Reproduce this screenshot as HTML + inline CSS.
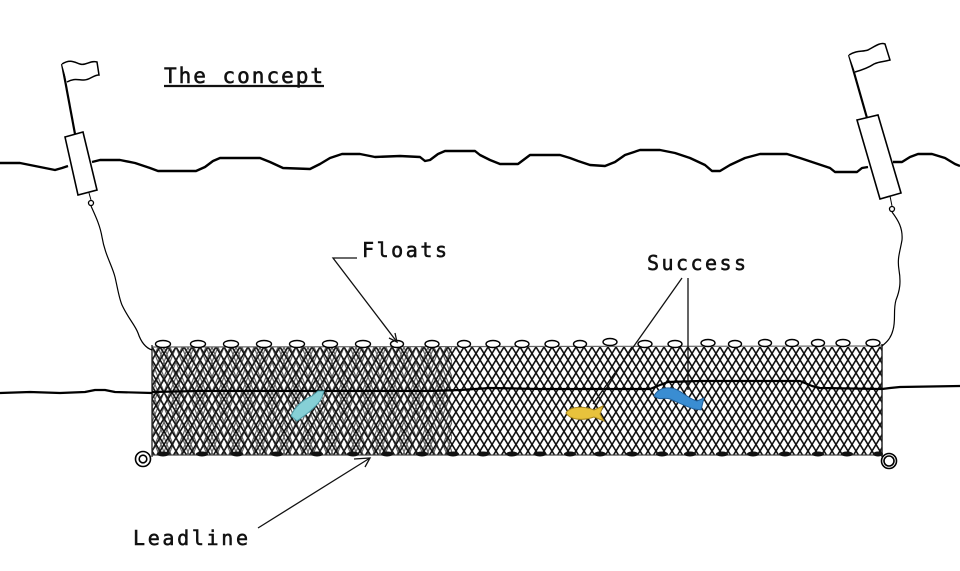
<!DOCTYPE html>
<html><head><meta charset="utf-8"><style>
html,body{margin:0;padding:0;background:#fff;}
svg{display:block;}
text{font-family:"DejaVu Sans Mono","Liberation Mono",monospace;fill:#111;stroke:#111;stroke-width:0.55;}
</style></head><body>
<svg width="960" height="571" viewBox="0 0 960 571" xmlns="http://www.w3.org/2000/svg">
<defs>
<pattern id="mesh" x="152" y="347" width="8" height="13" patternUnits="userSpaceOnUse">
<g stroke="#111" stroke-width="1.6" fill="none">
<line x1="-8" y1="-13" x2="16" y2="26"/>
<line x1="-16" y1="-13" x2="8" y2="26"/>
<line x1="0" y1="-13" x2="24" y2="26"/>
<line x1="16" y1="-13" x2="-8" y2="26"/>
<line x1="8" y1="-13" x2="-16" y2="26"/>
<line x1="24" y1="-13" x2="0" y2="26"/>
</g>
</pattern>
<pattern id="mesh2" x="152" y="347" width="6" height="15" patternUnits="userSpaceOnUse">
<g stroke="#222" stroke-width="1.2" fill="none">
<line x1="-6" y1="-15" x2="12" y2="30"/>
<line x1="-12" y1="-15" x2="6" y2="30"/>
<line x1="0" y1="-15" x2="18" y2="30"/>
<line x1="12" y1="-15" x2="-6" y2="30"/>
<line x1="6" y1="-15" x2="-12" y2="30"/>
<line x1="18" y1="-15" x2="0" y2="30"/>
</g>
</pattern>
</defs>

<!-- Title -->
<text x="164" y="83" font-size="21" textLength="159" lengthAdjust="spacing">The concept</text>
<line x1="164" y1="86" x2="324" y2="86" stroke="#111" stroke-width="2.2"/>

<!-- top water line -->
<g fill="none" stroke="#000" stroke-width="2.4" stroke-linejoin="round">
<polyline points="0,163 20,163 40,167 55,170 62,168 68,166"/>
<polyline points="92,162 100,160 120,160 135,163 150,168 158,171 196,171 205,167 213,161 220,158 260,158 270,162 283,168 310,169 320,164 330,158 342,154 360,154 375,157 400,156 420,157 425,161 430,160 438,154 445,151 475,151 480,155 490,160 500,164 518,164 522,161 530,155 560,155 570,158 578,161 590,165 605,166 615,162 625,155 640,150 660,150 675,153 690,158 705,165 712,171 720,171 730,165 745,158 760,154 787,154 800,158 815,163 830,168 835,172 857,172 862,168 868,167"/>
<polyline points="893,162 902,162 910,157 918,154 932,154 945,158 955,164 960,166"/>
</g>

<!-- net mesh -->
<rect x="152" y="347" width="730" height="108" fill="url(#mesh)"/>
<rect x="152" y="347" width="300" height="108" fill="url(#mesh2)" opacity="0.7"/>
<line x1="152" y1="347" x2="882" y2="346" stroke="#666" stroke-width="1.2"/>
<line x1="152" y1="455" x2="882" y2="455" stroke="#444" stroke-width="1.2"/>
<line x1="152" y1="345" x2="152" y2="457" stroke="#222" stroke-width="1.3"/>
<line x1="882" y1="344" x2="882" y2="457" stroke="#222" stroke-width="1.5"/>

<!-- bottom water line -->
<g fill="none" stroke="#000" stroke-width="2.2" stroke-linejoin="round">
<polyline points="0,393 30,392 60,393 85,392 95,390 105,390 115,392 152,393"/>
<polyline points="152,392 200,391 300,391 430,391 460,390 490,388 540,389 650,389 660,385 668,382 700,381 800,381 812,386 820,388 882,389"/>
<polyline points="882,389 890,388 900,387 960,386"/>
</g>

<!-- floats -->
<g fill="#fff" stroke="#000" stroke-width="1.4">
<ellipse cx="163" cy="344" rx="7.5" ry="3.5"/>
<ellipse cx="198" cy="344" rx="7.5" ry="3.5"/>
<ellipse cx="231" cy="344" rx="7.5" ry="3.5"/>
<ellipse cx="264" cy="344" rx="7.5" ry="3.5"/>
<ellipse cx="297" cy="344" rx="7.5" ry="3.5"/>
<ellipse cx="330" cy="344" rx="7.5" ry="3.5"/>
<ellipse cx="363" cy="344" rx="7.5" ry="3.5"/>
<ellipse cx="397" cy="344" rx="6.5" ry="3.5"/>
<ellipse cx="432" cy="344" rx="7" ry="3.5"/>
<ellipse cx="464" cy="344" rx="6.5" ry="3.5"/>
<ellipse cx="493" cy="344" rx="7" ry="3.5"/>
<ellipse cx="522" cy="344" rx="7" ry="3.5"/>
<ellipse cx="552" cy="344" rx="7" ry="3.5"/>
<ellipse cx="580" cy="344" rx="6.5" ry="3.5"/>
<ellipse cx="610" cy="342" rx="7" ry="3.5"/>
<ellipse cx="645" cy="344" rx="7" ry="3.5"/>
<ellipse cx="675" cy="344" rx="7" ry="3.5"/>
<ellipse cx="708" cy="343" rx="7" ry="3.5"/>
<ellipse cx="735" cy="344" rx="6.5" ry="3.5"/>
<ellipse cx="765" cy="343" rx="6.5" ry="3.5"/>
<ellipse cx="792" cy="343" rx="6.5" ry="3.5"/>
<ellipse cx="818" cy="343" rx="6.5" ry="3.5"/>
<ellipse cx="843" cy="343" rx="7" ry="3.5"/>
<ellipse cx="873" cy="343" rx="7" ry="3.5"/>
</g>

<!-- leads -->
<g fill="#111">
<ellipse cx="163" cy="454" rx="6" ry="2.5"/>
<ellipse cx="202" cy="454" rx="6" ry="2.5"/>
<ellipse cx="237" cy="454" rx="6" ry="2.5"/>
<ellipse cx="277" cy="454" rx="6" ry="2.5"/>
<ellipse cx="317" cy="454" rx="6" ry="2.5"/>
<ellipse cx="353" cy="454" rx="6" ry="2.5"/>
<ellipse cx="387" cy="454" rx="6" ry="2.5"/>
<ellipse cx="422" cy="454" rx="6" ry="2.5"/>
<ellipse cx="453" cy="454" rx="6" ry="2.5"/>
<ellipse cx="483" cy="454" rx="6" ry="2.5"/>
<ellipse cx="512" cy="454" rx="6" ry="2.5"/>
<ellipse cx="540" cy="454" rx="6" ry="2.5"/>
<ellipse cx="570" cy="454" rx="6" ry="2.5"/>
<ellipse cx="600" cy="454" rx="6" ry="2.5"/>
<ellipse cx="632" cy="454" rx="6" ry="2.5"/>
<ellipse cx="662" cy="454" rx="6" ry="2.5"/>
<ellipse cx="690" cy="454" rx="6" ry="2.5"/>
<ellipse cx="722" cy="454" rx="6" ry="2.5"/>
<ellipse cx="753" cy="454" rx="6" ry="2.5"/>
<ellipse cx="785" cy="454" rx="6" ry="2.5"/>
<ellipse cx="818" cy="454" rx="6" ry="2.5"/>
<ellipse cx="847" cy="454" rx="6" ry="2.5"/>
<ellipse cx="878" cy="454" rx="5" ry="2.5"/>
</g>

<!-- rings -->
<g fill="#fff" stroke="#000" stroke-width="1.6">
<circle cx="143" cy="459" r="7.5"/>
<circle cx="143" cy="459" r="3.8"/>
<circle cx="889" cy="461" r="7.5"/>
<circle cx="889" cy="461" r="5"/>
</g>

<!-- fish -->
<g stroke-width="1">
<path d="M291,416 C294,408 302,400 312,396 L318,391 L324,391 L322,397 L320,401 C313,410 304,416 297,421 Z" fill="#86d0d6" stroke="#4d9aa6"/>
<path d="M566,413 C570,406 584,406 594,410 L603,406 L600,414 L604,421 L594,417 C583,421 570,420 566,413 Z" fill="#e8c23c" stroke="#a8861c"/>
<path d="M654,396 C659,386 672,386 681,392 C688,397 693,400 697,401 L704,398 L701,410 L694,409 C685,406 677,402 670,399 C664,397 660,401 654,396 Z" fill="#3a8dd2" stroke="#1f5f9a"/>
</g>

<!-- left buoy -->
<g stroke="#000" fill="none">
<line x1="62" y1="64" x2="75" y2="134" stroke-width="2.2"/>
<path d="M62,64 C70,59 74,62 80,64 C86,66 90,60 97,62 L99,75 C93,75 90,80 84,80 C78,80 74,78 67,82" stroke-width="1.5" fill="#fff"/>
<polygon points="65,137 83,132 97,190 78,195" fill="#fff" stroke-width="1.6"/>
<line x1="89" y1="193" x2="91" y2="200" stroke-width="1"/>
<circle cx="91" cy="203" r="2.5" stroke-width="1.3"/>
<path d="M91,206 C95,215 100,225 102,237 C105,255 112,265 115,277 C118,290 119,298 122,305 C128,318 135,325 138,333 C141,342 146,348 152,350" stroke-width="1.2"/>
</g>

<!-- right buoy -->
<g stroke="#000" fill="none">
<line x1="849" y1="55" x2="867" y2="118" stroke-width="2.2"/>
<path d="M849,55 C857,50 862,52 868,50 C874,47 880,42 885,44 L890,60 C884,62 880,61 874,64 C868,68 862,70 855,72" stroke-width="1.5" fill="#fff"/>
<polygon points="857,120 878,115 901,193 880,199" fill="#fff" stroke-width="1.6"/>
<line x1="890" y1="196" x2="892" y2="206" stroke-width="1"/>
<circle cx="892" cy="209" r="2.5" stroke-width="1.3"/>
<path d="M892,212 C898,220 903,228 902,240 C900,252 897,258 899,270 C901,282 900,290 896,300 C893,310 896,320 893,330 C891,338 887,342 882,346" stroke-width="1.2"/>
</g>

<!-- Floats label -->
<text x="362" y="257" font-size="20" textLength="85" lengthAdjust="spacing">Floats</text>
<g stroke="#111" stroke-width="1.3" fill="none">
<polyline points="357,258 333,258 397,342"/>
<polyline points="395,333 397,342 389,338"/>
</g>

<!-- Success label -->
<text x="647" y="270" font-size="20" textLength="99" lengthAdjust="spacing">Success</text>
<g stroke="#111" stroke-width="1.3">
<line x1="682" y1="278" x2="593" y2="404"/>
<line x1="688" y1="278" x2="688" y2="390"/>
</g>

<!-- Leadline label -->
<text x="133" y="545" font-size="20" textLength="115" lengthAdjust="spacing">Leadline</text>
<g stroke="#111" stroke-width="1.3" fill="none">
<line x1="258" y1="528" x2="370" y2="458"/>
<polyline points="354,459 370,458 365,467"/>
</g>
</svg>
</body></html>
